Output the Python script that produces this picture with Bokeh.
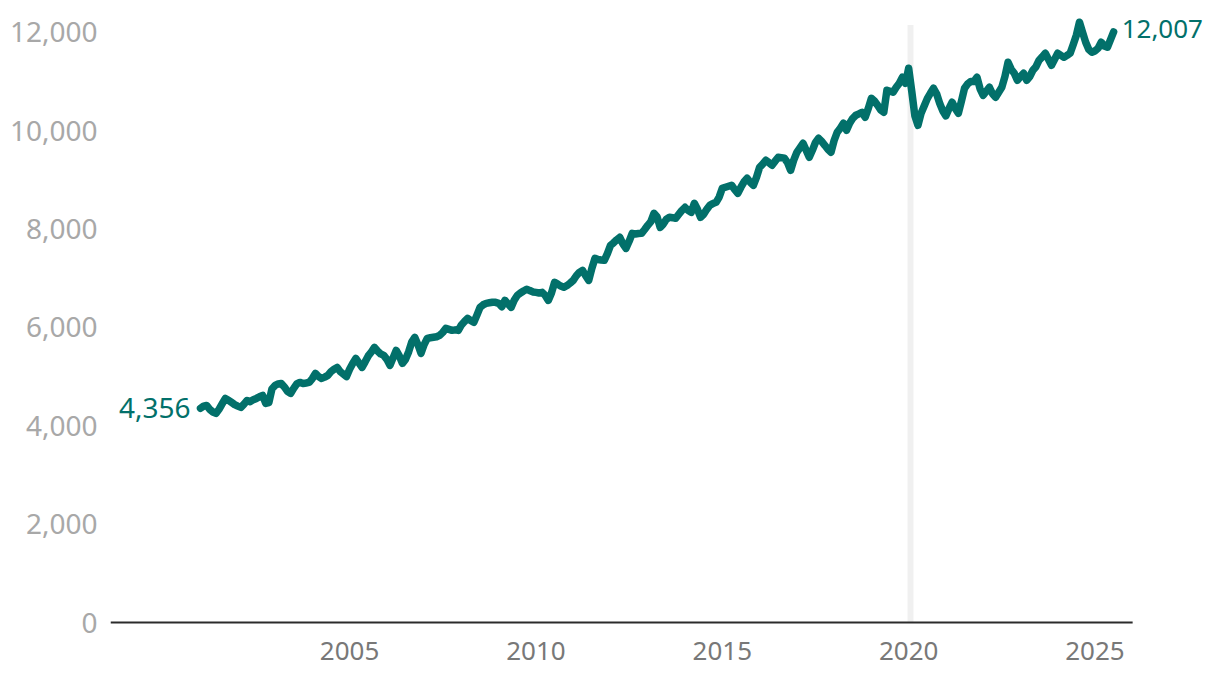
from bokeh.plotting import figure
from bokeh.models import FixedTicker, NumeralTickFormatter, PrintfTickFormatter, Range1d, ColumnDataSource, Label
from bokeh.core.properties import value
from bokeh.embed import file_html
from bokeh.resources import INLINE

# ---- data: monthly values, Jan 2001 .. Jul 2025 ----
start_year = 2001
v2001 = [4356, 4400, 4414, 4330, 4280, 4251, 4340, 4450, 4556, 4520, 4475, 4430]
v2002 = [4400, 4373, 4440, 4515, 4490, 4530, 4556, 4590, 4617, 4454, 4470, 4750]
v2003 = [4821, 4850, 4861, 4790, 4700, 4658, 4760, 4850, 4882, 4860, 4870, 4882]
v2004 = [4960, 5065, 5000, 4963, 4990, 5024, 5100, 5150, 5187, 5100, 5050, 5000]
v2005 = [5150, 5268, 5370, 5280, 5187, 5300, 5420, 5500, 5594, 5520, 5460, 5431]
v2006 = [5350, 5228, 5380, 5532, 5420, 5268, 5350, 5500, 5700, 5797, 5650, 5472]
v2007 = [5650, 5777, 5790, 5800, 5810, 5838, 5900, 5980, 5960, 5940, 5950, 5939]
v2008 = [6050, 6120, 6183, 6140, 6102, 6250, 6407, 6460, 6489, 6500, 6510, 6509]
v2009 = [6489, 6420, 6549, 6480, 6407, 6550, 6651, 6700, 6740, 6773, 6750, 6720]
v2010 = [6712, 6700, 6712, 6650, 6549, 6700, 6916, 6880, 6840, 6814, 6850, 6900]
v2011 = [6956, 7050, 7120, 7160, 7050, 6956, 7200, 7404, 7380, 7370, 7363, 7500]
v2012 = [7668, 7720, 7780, 7831, 7700, 7607, 7750, 7912, 7900, 7910, 7912, 7990]
v2013 = [8075, 8150, 8319, 8250, 8034, 8100, 8200, 8238, 8230, 8217, 8300, 8380]
v2014 = [8441, 8380, 8339, 8522, 8400, 8238, 8300, 8400, 8482, 8520, 8543, 8650]
v2015 = [8828, 8850, 8870, 8889, 8800, 8726, 8850, 8960, 9031, 8950, 8889, 9050]
v2016 = [9255, 9320, 9397, 9350, 9296, 9380, 9458, 9450, 9438, 9350, 9194, 9400]
v2017 = [9560, 9650, 9743, 9600, 9458, 9600, 9760, 9845, 9780, 9702, 9620, 9560]
v2018 = [9800, 9967, 10050, 10150, 10007, 10150, 10250, 10312, 10340, 10373, 10272, 10450]
v2019 = [10658, 10600, 10516, 10420, 10373, 10821, 10800, 10780, 10880, 10963, 11085, 10963]
v2020 = [11268, 10800, 10300, 10109, 10350, 10500, 10650, 10760, 10862, 10750, 10556, 10400]
v2021 = [10300, 10450, 10577, 10450, 10353, 10600, 10862, 10950, 11000, 11000, 11085, 10850]
v2022 = [10719, 10800, 10882, 10750, 10679, 10780, 10882, 11100, 11390, 11250, 11167, 11024]
v2023 = [11100, 11167, 11024, 11100, 11228, 11300, 11431, 11500, 11573, 11450, 11329, 11450]
v2024 = [11573, 11530, 11492, 11530, 11573, 11750, 11940, 12204, 12000, 11797, 11650, 11594]
v2025 = [11620, 11675, 11797, 11720, 11696, 11850, 12007]

yearly = [v2001, v2002, v2003, v2004, v2005, v2006, v2007, v2008, v2009, v2010,
          v2011, v2012, v2013, v2014, v2015, v2016, v2017, v2018, v2019, v2020,
          v2021, v2022, v2023, v2024, v2025]

y_ticks = [0, 2000, 4000, 6000, 8000, 10000, 12000]
x_ticks = [2005, 2010, 2015, 2020, 2025]
band_start, band_end = 2019.97, 2020.13   # highlighted period (early 2020)
axis_start, axis_end = 1998.585, 2026.01  # extent of the baseline

values = []
dates = []
for i, yr in enumerate(yearly):
    for m, v in enumerate(yr):
        values.append(v)
        dates.append(start_year + i + m / 12.0)

TEAL = "#02706a"
FONT = "Noto Sans"

p = figure(width=1204, height=670, output_backend="svg", toolbar_location=None,
           x_range=Range1d(axis_start, 2027.938), y_range=Range1d(-40, 12300),
           min_border_left=110, min_border_right=0, min_border_top=17, min_border_bottom=46)

p.outline_line_color = None
p.xgrid.visible = False
p.ygrid.visible = False
p.background_fill_color = "white"
p.border_fill_color = "white"

# highlighted band
p.quad(left=[band_start], right=[band_end], bottom=[0], top=[12150],
       fill_color="#f0f0f0", line_color=None)

# baseline (x axis line)
p.segment(x0=[axis_start], y0=[0], x1=[axis_end], y1=[0], line_color="#2b2b2b", line_width=2)

src = ColumnDataSource(dict(x=dates, y=values))
p.line("x", "y", source=src, line_color=TEAL, line_width=7.5,
       line_cap="round", line_join="round")

# end labels
p.add_layout(Label(x=dates[0], y=values[0], text=f"{values[0]:,}", text_align="right",
                   text_baseline="middle", x_offset=-10, y_offset=0, text_color=TEAL,
                   text_font=FONT, text_font_size="28px"))
p.add_layout(Label(x=dates[-1], y=values[-1], text=f"{values[-1]:,}", text_align="left",
                   text_baseline="middle", x_offset=8, y_offset=3, text_color=TEAL,
                   text_font=FONT, text_font_size="26px"))

# y axis
ya = p.yaxis[0]
ya.ticker = FixedTicker(ticks=y_ticks)
ya.formatter = NumeralTickFormatter(format="0,0")
ya.axis_line_color = None
ya.major_tick_line_color = None
ya.minor_tick_line_color = None
ya.major_label_text_color = "#a8a8a8"
ya.major_label_text_font = FONT
ya.major_label_text_font_size = "28px"
ya.major_label_standoff = 7

# x axis (labels only, line drawn as baseline segment)
xa = p.xaxis[0]
xa.ticker = FixedTicker(ticks=x_ticks)
xa.formatter = PrintfTickFormatter(format="%d")
xa.axis_line_color = None
xa.major_tick_line_color = None
xa.minor_tick_line_color = None
xa.major_label_text_color = "#787878"
xa.major_label_text_font = FONT
xa.major_label_text_font_size = "26px"
xa.major_label_standoff = 11

open("out.html", "w").write(file_html(p, INLINE))
